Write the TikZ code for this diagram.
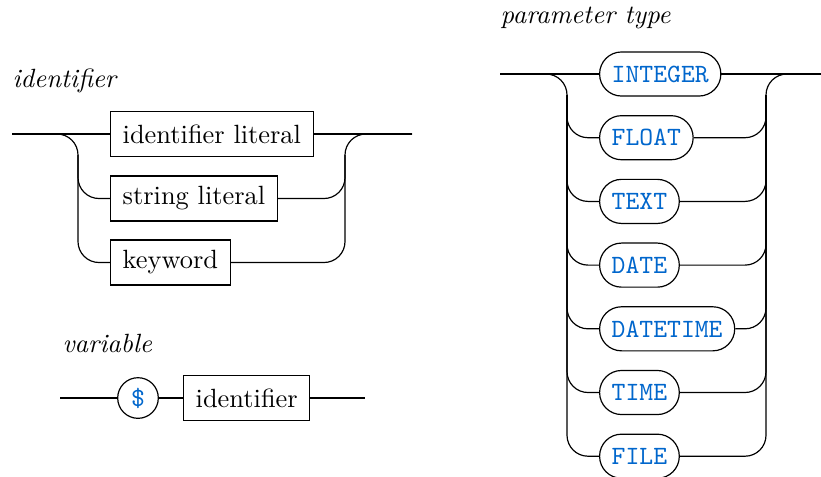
\documentclass[tikz,border=0pt]{standalone}
\usetikzlibrary{calc}
\definecolor{kwblue}{RGB}{0,102,204}
\begin{document}
\begin{tikzpicture}[x=0.379pt, y=-0.379pt, line width=0.45pt,
  rail/.style={draw, rounded corners=7.96pt},
  nonterm/.style={draw, rectangle, anchor=west, minimum height=17pt, inner xsep=4.6pt, inner ysep=0pt},
  term/.style={draw, rectangle, rounded corners=8.3pt, anchor=west, minimum height=16.7pt, inner xsep=4.6pt, inner ysep=0pt, text=kwblue, font=\ttfamily},
  token/.style={draw, circle, minimum size=15.4pt, inner sep=0pt, text=kwblue, font=\ttfamily},
  title/.style={anchor=base west, inner sep=0pt, font=\itshape}]
\useasboundingbox (0,0) rectangle (821,476);

% identifier
\node[title] (tid) at (12,87) {identifier};
\coordinate (iin) at (12,134);
\coordinate (iout) at (412,134);
\coordinate (iL) at (78,134);
\coordinate (iR) at (345,134);
\coordinate (iLd) at (78,155);
\coordinate (iRd) at (345,155);
\node[nonterm] (idlit) at (110,134) {identifier literal};
\node[nonterm] (strlit) at (110,198.5) {string literal};
\node[nonterm] (kw) at (110,262.5) {keyword};
\draw (iin) -- (idlit.west);
\draw (idlit.east) -- (iout);
\draw[rail] (iin) -- (iL) |- (kw.west);
\draw[rail] (iLd) |- (strlit.west);
\draw[rail] (kw.east) -| (iR) -- (iout);
\draw[rail] (strlit.east) -| (iRd);

% variable
\node[title] (tvar) at (62,352) {variable};
\coordinate (vin) at (60,398);
\coordinate (vout) at (365,398);
\node[token] (dollar) at (138,398) {\$};
\node[nonterm] (vid) at (183,398) {identifier};
\draw (vin) -- (dollar);
\draw (dollar) -- (vid.west);
\draw (vid.east) -- (vout);

% parameter type
\node[title] (tpar) at (500,23) {parameter type};
\coordinate (pin) at (500,74);
\coordinate (pout) at (821,74);
\coordinate (pL) at (567,74);
\coordinate (pR) at (766,74);
\coordinate (pLd) at (567,95);
\coordinate (pRd) at (766,95);
\node[term] (tint) at (599,74) {INTEGER};
\node[term] (tflo) at (599,137.7) {FLOAT};
\node[term] (ttxt) at (599,201.4) {TEXT};
\node[term] (tdat) at (599,265.1) {DATE};
\node[term] (tdtm) at (599,328.8) {DATETIME};
\node[term] (ttim) at (599,392.5) {TIME};
\node[term] (tfil) at (599,456.2) {FILE};
\draw (pin) -- (tint.west);
\draw (tint.east) -- (pout);
\draw[rail] (pin) -- (pL) |- (tfil.west);
\draw[rail] (tfil.east) -| (pR) -- (pout);
\foreach \n in {tflo,ttxt,tdat,tdtm,ttim} {
  \draw[rail] (pLd) |- (\n.west);
  \draw[rail] (\n.east) -| (pRd);
}
\end{tikzpicture}
\end{document}
